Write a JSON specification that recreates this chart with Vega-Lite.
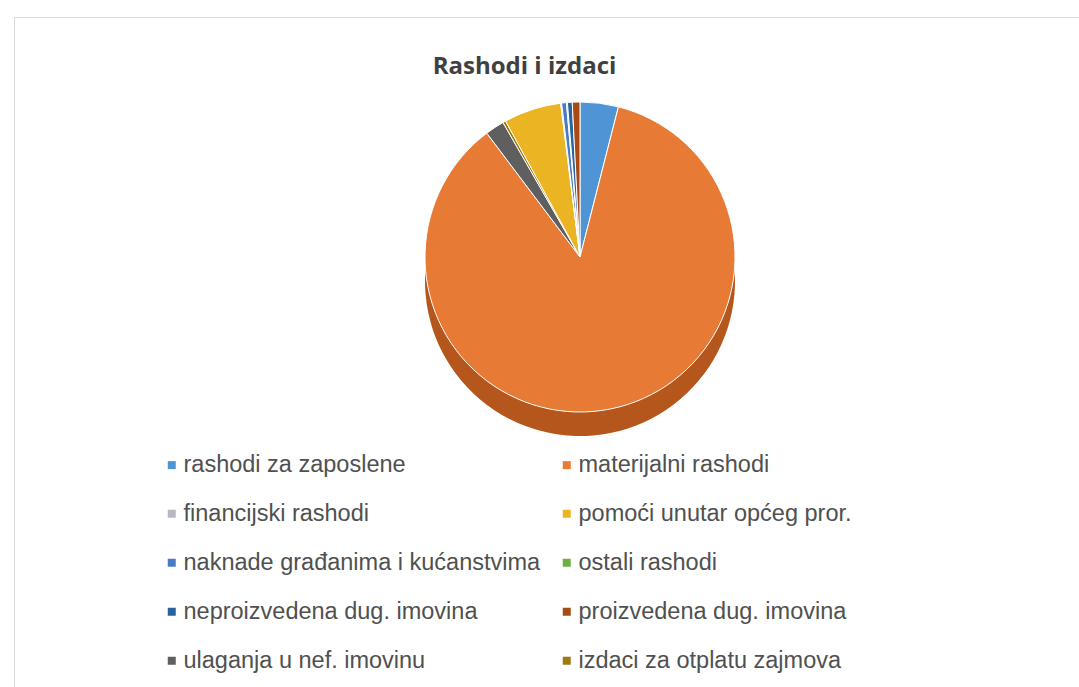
{
  "$schema": "https://vega.github.io/schema/vega-lite/v6.json",
  "autosize": "none",
  "width": 1065,
  "height": 670,
  "padding": {"left": 14, "top": 17, "right": 0, "bottom": 0},
  "background": "white",
  "title": {"text": "Rashodi i izdaci", "offset": -62, "dx": -22, "fontSize": 24, "font": "Open Sans", "fontWeight": "bold", "color": "#404040", "anchor": "middle"},
  "config": {"view": {"stroke": "#d9d9d9"}},
  "data": {"values": [
    {"kategorija": "rashodi za zaposlene", "iznos": 4.0, "redoslijed": 1},
    {"kategorija": "materijalni rashodi", "iznos": 86.0, "redoslijed": 2},
    {"kategorija": "ulaganja u nef. imovinu", "iznos": 2.0, "redoslijed": 3},
    {"kategorija": "izdaci za otplatu zajmova", "iznos": 0.3, "redoslijed": 4},
    {"kategorija": "pomoći unutar općeg pror.", "iznos": 6.0, "redoslijed": 5},
    {"kategorija": "financijski rashodi", "iznos": 0.1, "redoslijed": 6},
    {"kategorija": "naknade građanima i kućanstvima", "iznos": 0.5, "redoslijed": 7},
    {"kategorija": "ostali rashodi", "iznos": 0.1, "redoslijed": 8},
    {"kategorija": "neproizvedena dug. imovina", "iznos": 0.5, "redoslijed": 9},
    {"kategorija": "proizvedena dug. imovina", "iznos": 0.8, "redoslijed": 10}
  ]},
  "layer": [
    {
      "mark": {"type": "arc", "outerRadius": 155, "stroke": null},
      "encoding": {
        "theta": {"field": "iznos", "type": "quantitative", "stack": true},
        "order": {"field": "redoslijed", "type": "quantitative"},
        "x": {"value": 566},
        "y": {"value": 264},
        "color": {
          "field": "kategorija", "type": "nominal", "legend": null,
          "scale": {
            "domain": ["rashodi za zaposlene", "materijalni rashodi", "financijski rashodi", "pomoći unutar općeg pror.", "naknade građanima i kućanstvima", "ostali rashodi", "neproizvedena dug. imovina", "proizvedena dug. imovina", "ulaganja u nef. imovinu", "izdaci za otplatu zajmova"],
            "range": ["#2f6bab", "#b5561c", "#8a8a90", "#c08e10", "#2f5a9c", "#4f8a30", "#1a4470", "#7a360a", "#3f3f3f", "#6f5400"]
          }
        }
      }
    },
    {
      "mark": {"type": "arc", "outerRadius": 155, "stroke": "white", "strokeWidth": 1},
      "encoding": {
        "theta": {"field": "iznos", "type": "quantitative", "stack": true},
        "order": {"field": "redoslijed", "type": "quantitative"},
        "x": {"value": 566},
        "y": {"value": 240},
        "color": {
          "field": "kategorija", "type": "nominal",
          "scale": {
            "domain": ["rashodi za zaposlene", "materijalni rashodi", "financijski rashodi", "pomoći unutar općeg pror.", "naknade građanima i kućanstvima", "ostali rashodi", "neproizvedena dug. imovina", "proizvedena dug. imovina", "ulaganja u nef. imovinu", "izdaci za otplatu zajmova"],
            "range": ["#4f94d4", "#e77b36", "#b8b8c4", "#eab422", "#4a7cc4", "#6fae47", "#2a62a0", "#a84a14", "#5f5f5f", "#a07a10"]
          },
          "legend": {
            "title": null,
            "orient": "none",
            "legendX": 146,
            "legendY": 436,
            "columns": 2,
            "direction": "horizontal",
            "gridAlign": "each",
            "columnPadding": 14,
            "rowPadding": 24,
            "symbolType": "square",
            "symbolSize": 64,
            "symbolStrokeWidth": 0,
            "labelFontSize": 23.5,
            "labelFont": "Liberation Sans",
            "labelColor": "#505050",
            "labelOffset": 0,
            "labelLimit": 500
          }
        }
      }
    }
  ],
  "resolve": {"scale": {"color": "independent"}}
}
